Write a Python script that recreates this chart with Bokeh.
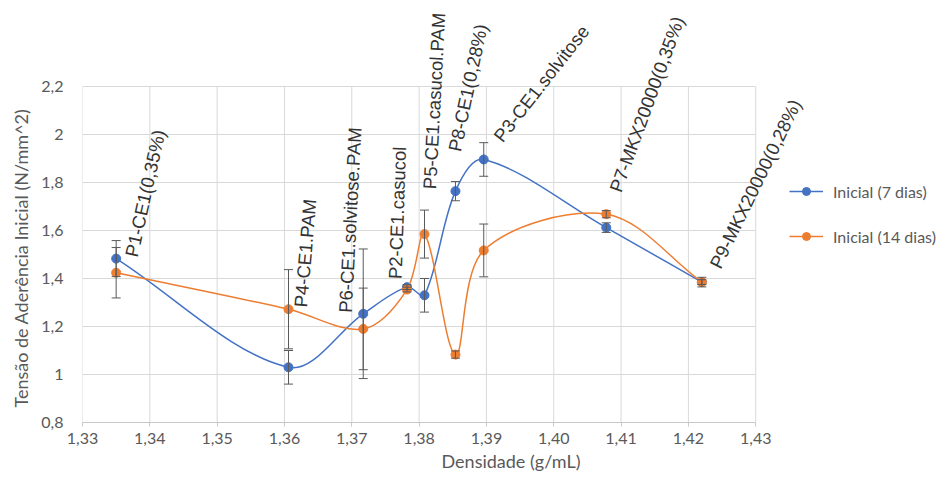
import numpy as np
from bokeh.plotting import figure
from bokeh.models import (ColumnDataSource, Whisker, TeeHead, Label, Legend,
                          LegendItem, FixedTicker, Range1d, Title)
from bokeh.embed import file_html
from bokeh.resources import INLINE

# ---------------- data ----------------
density = [1.3350, 1.3606, 1.3717, 1.3782, 1.3808, 1.3854, 1.3896, 1.4078, 1.4220]
tensao_7 = [1.483, 1.030, 1.253, 1.364, 1.330, 1.764, 1.896, 1.612, 1.385]
tensao_14 = [1.424, 1.272, 1.190, 1.354, 1.585, 1.083, 1.517, 1.668, 1.385]
err_7 = [0.075, 0.070, 0.270, 0.010, 0.070, 0.040, 0.070, 0.020, 0.010]
err_14 = [0.105, 0.165, 0.170, 0.010, 0.100, 0.015, 0.110, 0.015, 0.020]
point_labels = ["P1-CE1(0,35%)", "P4-CE1.PAM", "P6-CE1.solvitose.PAM",
                "P2-CE1.casucol", "P5-CE1.casucol.PAM", "P8-CE1(0,28%)",
                "P3-CE1.solvitose", "P7-MKX20000(0,35%)", "P9-MKX20000(0,28%)"]
series_names = ["Inicial (7 dias)", "Inicial (14 dias)"]
x_ticks = [1.33, 1.34, 1.35, 1.36, 1.37, 1.38, 1.39, 1.40, 1.41, 1.42, 1.43]
x_tick_labels = ["1,33", "1,34", "1,35", "1,36", "1,37", "1,38", "1,39",
                 "1,40", "1,41", "1,42", "1,43"]
y_ticks = [0.8, 1.0, 1.2, 1.4, 1.6, 1.8, 2.0, 2.2]
y_tick_labels = ["0,8", "1", "1,2", "1,4", "1,6", "1,8", "2", "2,2"]
x_title = "Densidade (g/mL)"
y_title = "Tensão de Aderência Inicial (N/mm^2)"

# ---------------- styles (label placement in screen px) ----------------
label_angle = [77.5, 85, 87, 88, 87, 78, 52, 70, 64]
label_dx = [15, 12, -18, -12, 5, -1, 14, 9, 13]
label_dy = [2, 2, 1, 8, 45, 40, 20, 23, 15]

BLUE = "#4472C4"
ORANGE = "#ED7D31"
GRID = "#d9d9d9"
TXT = "#595959"

W, H = 939, 477
BL, BB = 81, 55              # frame starts at x=81 and ends at y=422
PX_X = 6740.0                # px per density unit
PX_Y = 240.0                 # px per N/mm^2
X0, Y0 = x_ticks[0], y_ticks[0]
X_END = X0 + (W - BL) / PX_X
Y_END = Y0 + (H - BB) / PX_Y

p = figure(width=W, height=H, output_backend="svg", toolbar_location=None,
           x_range=Range1d(X0, X_END), y_range=Range1d(Y0, Y_END),
           min_border_left=BL, min_border_right=0, min_border_top=0,
           min_border_bottom=BB)
p.background_fill_color = "white"
p.border_fill_color = "white"
p.outline_line_color = None
p.grid.visible = False

# axes
p.xaxis.ticker = FixedTicker(ticks=x_ticks)
p.yaxis.ticker = FixedTicker(ticks=y_ticks)
p.xaxis.bounds = (x_ticks[0], x_ticks[-1])
p.yaxis.bounds = (y_ticks[0], y_ticks[-1])
p.xaxis.major_label_overrides = dict(zip(x_ticks, x_tick_labels))
p.yaxis.major_label_overrides = dict(zip(y_ticks, y_tick_labels))
p.xaxis.minor_tick_line_color = None
p.yaxis.minor_tick_line_color = None
p.xaxis.axis_line_color = "#c8c8c8"
p.xaxis.major_tick_line_color = "#c8c8c8"
p.xaxis.major_tick_in = 0
p.xaxis.major_tick_out = 4
p.xaxis.major_label_standoff = 6
p.yaxis.axis_line_color = None
p.yaxis.major_tick_line_color = None
p.yaxis.major_tick_out = 0
p.yaxis.major_tick_in = 0
p.yaxis.major_label_standoff = 19
for ax in (p.xaxis, p.yaxis):
    ax.major_label_text_font = "Lato"
    ax.major_label_text_font_size = "16px"
    ax.major_label_text_color = TXT
    ax.axis_label_text_font = "Lato"
    ax.axis_label_text_font_size = "18px"
    ax.axis_label_text_font_style = "normal"
    ax.axis_label_text_color = TXT
p.xaxis.axis_label = x_title
p.xaxis.axis_label_standoff = 3

# vertical axis title, placed along the 0.8-2.2 plot area
p.add_layout(Title(text=y_title, align="left", offset=15, standoff=14,
                   text_font="Lato", text_font_size="18px",
                   text_font_style="normal", text_color=TXT), "left")

# gridlines limited to the chart's plot area (built from the tick lists)
p.segment(x0=x_ticks, y0=[y_ticks[0]] * len(x_ticks), x1=x_ticks,
          y1=[y_ticks[-1]] * len(x_ticks), line_color=GRID, line_width=1)
p.segment(x0=[x_ticks[0]] * len(y_ticks), y0=y_ticks,
          x1=[x_ticks[-1]] * len(y_ticks), y1=y_ticks, line_color=GRID,
          line_width=1)


def smooth_controls(xs, ys):
    """Bezier control points for an Excel-like smoothed line (screen space)."""
    P = np.column_stack([np.asarray(xs) * PX_X, np.asarray(ys) * PX_Y])
    n = len(P)
    out = {k: [] for k in ("x0", "y0", "x1", "y1", "cx0", "cy0", "cx1", "cy1")}
    for i in range(n - 1):
        p0 = P[max(i - 1, 0)]
        p1 = P[i]
        p2 = P[i + 1]
        p3 = P[min(i + 2, n - 1)]
        d01 = np.linalg.norm(p1 - p0)
        d12 = np.linalg.norm(p2 - p1)
        d23 = np.linalg.norm(p3 - p2)
        s1 = d12 / (d01 + d12) if d01 + d12 > 0 else 0.0
        s2 = d12 / (d12 + d23) if d12 + d23 > 0 else 0.0
        c1 = p1 + (p2 - p0) * s1 / 3.0
        c2 = p2 - (p3 - p1) * s2 / 3.0
        out["x0"].append(p1[0] / PX_X); out["y0"].append(p1[1] / PX_Y)
        out["x1"].append(p2[0] / PX_X); out["y1"].append(p2[1] / PX_Y)
        out["cx0"].append(c1[0] / PX_X); out["cy0"].append(c1[1] / PX_Y)
        out["cx1"].append(c2[0] / PX_X); out["cy1"].append(c2[1] / PX_Y)
    return ColumnDataSource(out)


items = []
for ys, es, color, name in ((tensao_7, err_7, BLUE, series_names[0]),
                            (tensao_14, err_14, ORANGE, series_names[1])):
    bez = p.bezier(x0="x0", y0="y0", x1="x1", y1="y1", cx0="cx0", cy0="cy0",
                   cx1="cx1", cy1="cy1", source=smooth_controls(density, ys),
                   line_color=color, line_width=1.5)
    src = ColumnDataSource(dict(x=density, y=ys,
                                upper=[a + b for a, b in zip(ys, es)],
                                lower=[a - b for a, b in zip(ys, es)]))
    wh = Whisker(base="x", upper="upper", lower="lower", source=src,
                 line_color="#595959", line_width=1, level="glyph",
                 upper_head=TeeHead(size=9, line_color="#595959", line_width=1),
                 lower_head=TeeHead(size=9, line_color="#595959", line_width=1))
    p.add_layout(wh)
    sc = p.scatter(x="x", y="y", source=src, size=9, fill_color=color,
                   line_color=color, marker="circle")
    items.append(LegendItem(label=name, renderers=[bez, sc]))

legend = Legend(items=items, location=(707, 176), margin=0, padding=0,
                spacing=25, label_height=20, glyph_height=20, glyph_width=34,
                label_standoff=10, border_line_color=None,
                background_fill_alpha=0, label_text_font="Lato",
                label_text_font_size="16px", label_text_color=TXT)
p.add_layout(legend)

for i, txt in enumerate(point_labels):
    top = max(tensao_7[i], tensao_14[i])
    p.add_layout(Label(x=density[i], y=top, text=txt, x_offset=label_dx[i],
                       y_offset=label_dy[i], angle=label_angle[i],
                       angle_units="deg", text_align="left",
                       text_baseline="middle", text_font="Liberation Sans",
                       text_font_size="18.5px", text_color="#333333"))

open("out.html", "w").write(file_html(p, INLINE))
